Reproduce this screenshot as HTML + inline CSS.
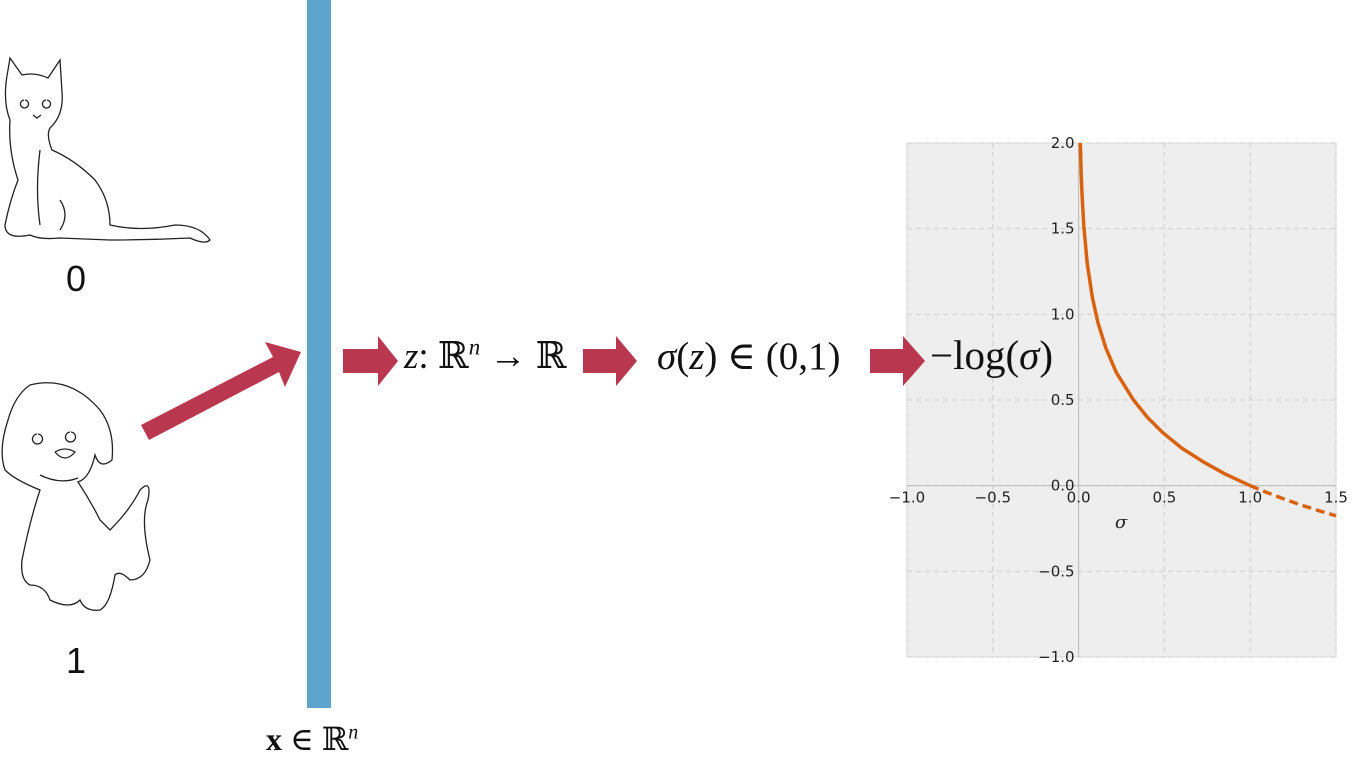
<!DOCTYPE html>
<html><head><meta charset="utf-8"><style>
body{margin:0;width:1356px;height:766px;background:#fff;overflow:hidden;position:relative;font-family:"Liberation Serif","DejaVu Serif",serif}
.t{position:absolute;white-space:nowrap;color:#111}
</style></head><body>
<svg width="1356" height="766" style="position:absolute;left:0;top:0">
 <g id="chart"></g>
 <g fill="none" stroke="#222" stroke-width="1.3">
  <path d="M8,70 L10,58 L22,75 Q35,72 48,78 L60,60 L62,92 Q64,115 50,128 Q46,135 52,150 Q75,160 95,180 Q110,200 110,225 Q140,232 175,225 Q200,225 210,240 Q205,245 190,238 Q150,240 110,240 L60,238 Q40,240 30,235 Q5,240 5,225 Q10,200 18,180 Q8,150 10,120 Q2,100 8,70 Z"/>
  <path d="M24,100 a4,4 0 1,0 1,0 M46,100 a4,4 0 1,0 1,0 M33,115 l4,3 l4,-3 M40,150 Q35,190 40,225 M60,200 Q70,215 60,230"/>
 </g>
 <g fill="none" stroke="#222" stroke-width="1.3">
  <path d="M30,385 Q70,375 100,410 Q115,430 112,460 Q100,470 95,455 Q90,478 78,482 Q90,500 100,520 L110,530 Q130,510 140,490 Q152,478 148,500 Q140,520 150,560 Q145,580 130,580 Q120,570 115,575 Q110,605 100,610 Q85,612 80,600 Q70,610 50,600 Q45,585 30,585 Q20,580 22,560 Q30,520 40,490 Q15,480 5,470 Q-2,450 8,420 Q15,395 30,385 Z"/>
  <path d="M37,434 a5,5 0 1,0 1,0 M70,432 a5,5 0 1,0 1,0 M55,452 q10,-6 20,0 q-10,12 -20,0 M40,475 Q60,485 78,478"/>
 </g>
 <rect x="307" y="0" width="24" height="708" fill="#5ea4cd"/>
 <g fill="#b9374f">
  <polygon points="141,425 273,357 265,342 301,352 285,387 279,372 149,440"/>
 </g>
 <g fill="#b9374f">
  <polygon points="343,349 378,349 378,336 398,361 378,386 378,373 343,373"/>
  <polygon points="583,349 616,349 616,336 637,361 616,386 616,373 583,373"/>
  <polygon points="870,349 903,349 903,336 925,361 903,386 903,373 870,373"/>
 </g>
</svg>
<div class="t" style="left:66px;top:258px;font:36px 'Liberation Sans',sans-serif">0</div>
<div class="t" style="left:66px;top:640px;font:36px 'Liberation Sans',sans-serif">1</div>
<div class="t" style="left:266px;top:720px;font-size:32px"><b>x</b> ∈ ℝ<sup style="font-size:20px;font-style:italic">n</sup></div>
<div class="t" style="left:404px;top:334px;font-size:37px"><i>z</i>: ℝ<sup style="font-size:23px;font-style:italic">n</sup> → ℝ</div>
<div class="t" style="left:657px;top:334px;font-size:39px"><i>σ</i>(<i>z</i>) ∈ (0,1)</div>
<div class="t" style="left:930px;top:331px;font-size:41px">−log(<i>σ</i>)</div>
<script>
const xTicks=[-1.0,-0.5,0.0,0.5,1.0,1.5];
const yTicks=[-1.0,-0.5,0.0,0.5,1.0,1.5,2.0];
const sigmaSolid=[0.01,0.015,0.02,0.03,0.05,0.08,0.113,0.16,0.22,0.32,0.4,0.49,0.6,0.73,0.85,1.0];
const lossSolid=[2.0,1.82,1.70,1.52,1.30,1.10,0.95,0.80,0.66,0.50,0.40,0.31,0.22,0.137,0.07,0.0];
const sigmaDash=[1.0,1.1,1.2,1.3,1.4,1.5];
const lossDash=[0.0,-0.041,-0.079,-0.114,-0.146,-0.176];
const L=907,R=1336,T=143,B=657,xmin=-1,xmax=1.5,ymin=-1,ymax=2;
const sx=v=>L+(v-xmin)/(xmax-xmin)*(R-L);
const sy=v=>B-(v-ymin)/(ymax-ymin)*(B-T);
const g=document.getElementById('chart');
const NS='http://www.w3.org/2000/svg';
function mk(tag,a){const e=document.createElementNS(NS,tag);for(const k in a)e.setAttribute(k,a[k]);g.appendChild(e);return e;}
const bg=mk('rect',{x:L,y:T,width:R-L,height:B-T,fill:'#eeeeee',stroke:'#dcdcdc'});


xTicks.forEach(v=>{const l=mk('line',{x1:sx(v),x2:sx(v),y1:T,y2:B,stroke:'#cfcfcf','stroke-dasharray':'5,4'});

});
yTicks.forEach(v=>{const l=mk('line',{x1:L,x2:R,y1:sy(v),y2:sy(v),stroke:'#cfcfcf','stroke-dasharray':'5,4'});

});
const xa=mk('line',{x1:L,x2:R,y1:sy(0),y2:sy(0),stroke:'#bbb','stroke-width':1});


const ya=mk('line',{x1:sx(0),x2:sx(0),y1:T,y2:B,stroke:'#bbb','stroke-width':1});


const fmt=v=>(v<0?'−':'')+Math.abs(v).toFixed(1);
xTicks.forEach(v=>{const t=mk('text',{x:sx(v),y:sy(0)+17,'text-anchor':'middle','font-size':15,'font-family':'DejaVu Sans,sans-serif',fill:'#222'});t.textContent=fmt(v);

});
yTicks.forEach(v=>{const t=mk('text',{x:sx(0)-4,y:sy(v)+5,'text-anchor':'end','font-size':15,'font-family':'DejaVu Sans,sans-serif',fill:'#222'});t.textContent=fmt(v);

});
const xl=mk('text',{x:1121,y:528,'text-anchor':'middle','font-size':18,'font-style':'italic','font-family':'DejaVu Serif,serif',fill:'#222'});xl.textContent='σ';


const p1=mk('path',{d:sigmaSolid.map((s,i)=>(i?'L':'M')+sx(s)+','+sy(lossSolid[i])).join(''),fill:'none',stroke:'#d9620f','stroke-width':3.5,'stroke-linejoin':'round'});


const p2=mk('path',{d:sigmaDash.map((s,i)=>(i?'L':'M')+sx(s)+','+sy(lossDash[i])).join(''),fill:'none',stroke:'#d9620f','stroke-width':3.5,'stroke-dasharray':'9,5'});


</script>
</body></html>
